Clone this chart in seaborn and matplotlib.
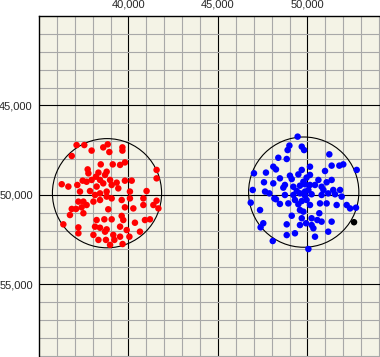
import numpy as np
import pandas as pd
import seaborn as sns
import matplotlib
matplotlib.use("Agg")
import matplotlib.pyplot as plt
from matplotlib.patches import Circle
from matplotlib.ticker import FuncFormatter

# red cluster
red_x = [37100, 37530, 38590, 38840, 39660, 37940, 38930, 39660, 36830, 38450,
         39120, 39530, 39800, 37720, 38320, 38780, 37760, 38180, 38690, 37440,
         37660, 37940, 38410, 38970, 39340, 39800, 40180, 41570, 41570, 36270,
         36640, 37140, 37290, 37850, 38220, 38590, 39060, 39430, 38780, 38410,
         38130, 40080, 41010, 37200, 37480, 37660, 38040, 38410, 38780, 39060,
         39620, 40080, 40830, 41570, 41390, 41670, 36830, 37070, 37380, 38870,
         39800, 40270, 40830, 36730, 37480, 38220, 38650, 39060, 39620, 39710,
         40360, 40920, 41200, 36360, 37200, 38130, 38410, 38780, 39530, 39900,
         38690, 40640, 38040, 37200, 39150, 38740, 39210, 39530, 40050, 39670,
         38320, 38970]
red_y = [47210, 47210, 47340, 47170, 47340, 47520, 47600, 47520, 47820, 48290,
         48290, 48320, 48180, 48570, 48750, 48700, 48790, 48980, 48880, 49200,
         49260, 49160, 49160, 49160, 49310, 49200, 49200, 48600, 49070, 49400,
         49530, 49440, 49810, 49780, 49530, 49350, 49440, 49630, 49810, 49910,
         50000, 49810, 49780, 50370, 50370, 50560, 50370, 50280, 50090, 50190,
         50280, 50190, 50190, 50320, 50560, 50750, 50780, 50780, 50690, 50800,
         50690, 50750, 50560, 51120, 51020, 51400, 51360, 51360, 51170, 51400,
         51550, 51400, 51360, 51640, 51810, 51770, 51830, 51920, 51770, 51960,
         52050, 52050, 52230, 52140, 52230, 52510, 52510, 52330, 52330, 52740,
         52510, 52790]

# blue cluster
blue_x = [49450, 48990, 48890, 49680, 49810, 51220, 48370, 48840, 50140, 48090,
          48240, 51350, 51780, 52000, 52750, 47010, 47680, 49680, 49020, 49490,
          50980, 49950, 49770, 50610, 51350, 46940, 47570, 48090, 48650, 49210,
          49580, 49860, 50140, 50420, 50790, 51070, 51440, 51820, 47630, 47870,
          48150, 48240, 48740, 49210, 49580, 49860, 50050, 50230, 50790, 51160,
          51910, 46830, 48930, 49300, 49680, 50140, 50700, 51070, 51630, 52190,
          52710, 52380, 47350, 49580, 49770, 50660, 49120, 48840, 47530, 47380,
          49680, 50230, 50550, 50790, 51350, 49580, 49920, 50230, 50330, 49300,
          48840, 51160, 50420, 48060, 50050, 49490, 48460, 49860, 49400, 50890,
          51540, 48460, 49120, 50140, 48740, 49950]
blue_y = [46740, 47240, 47490, 47300, 47490, 47730, 47920, 47990, 48420, 48420,
          48570, 48360, 48360, 48290, 48600, 48790, 48750, 48600, 48920, 48850,
          48660, 49030, 49260, 49160, 49160, 49720, 49290, 49350, 49590, 49540,
          49480, 49400, 49440, 49440, 49540, 49290, 49720, 49720, 49810, 49910,
          50190, 50240, 50000, 50000, 49910, 49810, 49720, 49960, 50000, 49910,
          50090, 50430, 50470, 50280, 50340, 50560, 50470, 50470, 50560, 50560,
          50710, 50750, 50840, 50840, 50930, 51020, 51160, 51640, 51580, 51810,
          51300, 51300, 51400, 51490, 51490, 51680, 51580, 51680, 51860, 52140,
          52240, 52050, 52330, 52570, 53020, 50520, 50500, 50040, 49780, 49720,
          49960, 49070, 49110, 48880, 49440, 50280]

# single black point
odd_x = [52600]
odd_y = [51520]

# rings around the clusters
ring_x = [38800, 49790]
ring_y = [49900, 49840]
ring_r = [3050, 3080]

x_ticks = [40000, 45000, 50000]
y_ticks = [45000, 50000, 55000]

df = pd.DataFrame({
    "x": red_x + blue_x + odd_x,
    "y": red_y + blue_y + odd_y,
    "group": ["red"] * len(red_x) + ["blue"] * len(blue_x) + ["black"] * len(odd_x),
})

sns.set_style("white")
plt.rcParams["font.family"] = ["Liberation Sans", "DejaVu Sans"]

fig = plt.figure(figsize=(3.8, 3.57), dpi=100)
ax = fig.add_axes([39 / 380, 0, 1 - 39 / 380, 341 / 357])
ax.set_facecolor("#f4f3e6")

for cx, cy, r in zip(ring_x, ring_y, ring_r):
    ax.add_patch(Circle((cx, cy), r, fill=False, edgecolor="black", lw=0.8, zorder=2))

sns.scatterplot(data=df, x="x", y="y", hue="group",
                palette={"red": "#ff0000", "blue": "#0000ff", "black": "#000000"},
                s=22, linewidth=0, legend=False, ax=ax, zorder=3)

ax.set_xlim(35000, 35000 + 341 * 55.87)
ax.set_ylim(40000 + 341 * 55.87, 40000)
ax.set_xticks(x_ticks)
ax.set_yticks(y_ticks)
ax.set_xticks(np.arange(36000, 55000, 1000), minor=True)
ax.set_yticks(np.arange(41000, 60000, 1000), minor=True)
fmt = FuncFormatter(lambda v, p: f"{int(v):,}")
ax.xaxis.set_major_formatter(fmt)
ax.yaxis.set_major_formatter(fmt)
ax.xaxis.tick_top()
ax.tick_params(which="both", length=0, labelsize=8, pad=4.5)
ax.grid(which="minor", color="#a8a8a8", lw=0.8, zorder=0)
ax.grid(which="major", color="black", lw=0.8, zorder=1)
ax.set_axisbelow(True)
ax.set_xlabel("")
ax.set_ylabel("")
for side in ["right", "bottom"]:
    ax.spines[side].set_visible(False)
for side in ["left", "top"]:
    ax.spines[side].set_color("black")
    ax.spines[side].set_linewidth(1.0)

fig.savefig("out.png", dpi=100)
